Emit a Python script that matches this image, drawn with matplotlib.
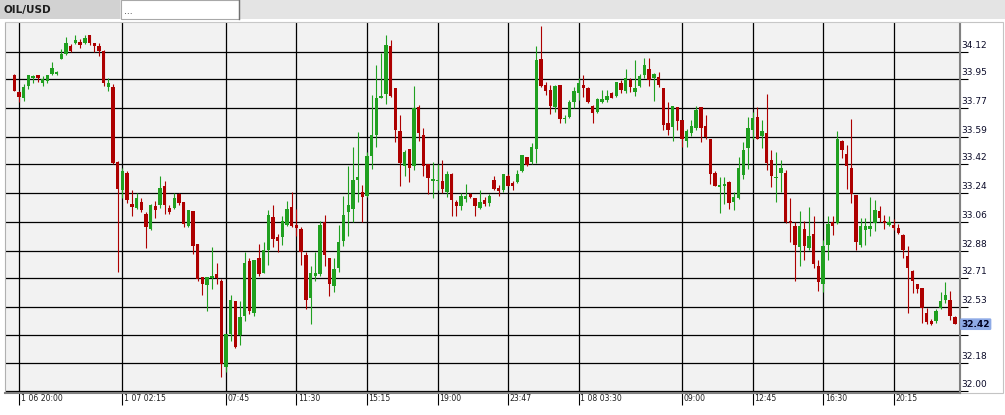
import matplotlib
matplotlib.use("Agg")
import matplotlib.pyplot as plt
import matplotlib.transforms as mtransforms
from matplotlib.patches import Rectangle
import numpy as np

# OHLC values, oldest bar first
opens = [33.98, 33.87, 33.833, 33.91, 33.96, 33.975, 33.93, 33.94, 33.985, 33.985,
         34.078, 34.11, 34.157, 34.176, 34.182, 34.176, 34.224, 34.178, 34.16, 34.13,
         33.899, 33.905, 33.433, 33.26, 33.365, 33.173, 33.146, 33.184, 33.107, 33.013,
         33.157, 33.163, 33.281, 33.146, 33.146, 33.236, 33.184, 33.034, 33.125, 32.92,
         32.713, 32.667, 32.706, 32.733, 32.69, 32.151, 32.359, 32.567, 32.355, 32.474,
         32.817, 32.49, 32.833, 32.74, 32.885, 33.087, 32.967, 32.967, 33.04, 33.15,
         33.04, 33.014, 32.852, 32.584, 32.719, 32.734, 33.056, 32.833, 32.657, 32.771,
         32.942, 33.118, 33.139, 33.32, 33.243, 33.222, 33.472, 33.601, 33.835, 33.858,
         34.16, 33.894, 33.626, 33.41, 33.513, 33.41, 33.775, 33.605, 33.423, 33.316,
         33.314, 33.312, 33.245, 33.36, 33.182, 33.161, 33.203, 33.235, 33.207, 33.147,
         33.193, 33.176, 33.323, 33.272, 33.256, 33.344, 33.304, 33.308, 33.377, 33.465,
         33.433, 33.517, 34.076, 33.915, 33.883, 33.779, 33.915, 33.699, 33.716, 33.811,
         33.867, 33.915, 33.898, 33.783, 33.748, 33.806, 33.821, 33.867, 33.846, 33.93,
         33.88, 33.946, 33.873, 33.909, 33.978, 34.016, 33.961, 33.963, 33.898, 33.679,
         33.649, 33.775, 33.695, 33.566, 33.616, 33.643, 33.775, 33.658, 33.58, 33.367,
         33.277, 33.285, 33.308, 33.183, 33.21, 33.35, 33.518, 33.633, 33.716, 33.597,
         33.616, 33.446, 33.331, 33.362, 33.367, 33.066, 33.035, 32.902, 33.014, 32.896,
         32.985, 32.782, 32.668, 32.917, 33.058, 33.051, 33.566, 33.483, 33.394, 33.228,
         32.912, 33.01, 33.014, 33.051, 33.13, 33.066, 33.037, 33.037, 33.02, 32.979,
         32.848, 32.751, 32.668, 32.647, 32.487, 32.44, 32.44, 32.518, 32.568, 32.57,
         32.464]
highs = [33.985, 33.88, 33.922, 33.978, 33.976, 33.98, 33.97, 33.98, 34.06, 34.005,
         34.14, 34.213, 34.17, 34.224, 34.2, 34.224, 34.228, 34.18, 34.178, 34.134,
         33.96, 33.92, 33.44, 33.396, 33.377, 33.256, 33.242, 33.21, 33.12, 33.173,
         33.188, 33.344, 33.315, 33.163, 33.242, 33.24, 33.184, 33.132, 33.125, 32.92,
         32.713, 32.717, 32.9, 32.8, 32.702, 32.359, 32.603, 32.567, 32.563, 32.869,
         32.831, 32.821, 32.921, 32.931, 33.135, 33.164, 32.983, 33.093, 33.187, 33.243,
         33.139, 33.025, 32.869, 32.786, 32.869, 33.066, 33.104, 32.833, 32.833, 33.039,
         33.222, 33.41, 33.524, 33.618, 33.291, 33.493, 33.851, 34.038, 34.113, 34.229,
         34.197, 33.894, 33.726, 33.507, 33.513, 33.909, 33.79, 33.643, 33.423, 33.433,
         33.423, 33.444, 33.377, 33.364, 33.197, 33.239, 33.293, 33.239, 33.207, 33.256,
         33.214, 33.235, 33.344, 33.287, 33.36, 33.36, 33.312, 33.381, 33.475, 33.465,
         33.549, 34.16, 34.281, 33.932, 33.915, 33.915, 33.915, 33.726, 33.821, 33.905,
         33.961, 33.978, 33.905, 33.79, 33.831, 33.884, 33.884, 33.873, 33.936, 33.946,
         34.016, 33.957, 34.068, 33.984, 34.083, 34.083, 33.988, 33.993, 33.898, 33.811,
         33.783, 33.775, 33.695, 33.639, 33.695, 33.783, 33.775, 33.727, 33.58, 33.377,
         33.34, 33.34, 33.312, 33.245, 33.465, 33.559, 33.716, 33.748, 33.779, 33.694,
         33.856, 33.508, 33.497, 33.446, 33.383, 33.207, 33.056, 33.13, 33.062, 33.151,
         33.093, 32.823, 32.948, 33.097, 33.097, 33.628, 33.57, 33.539, 33.705, 33.228,
         33.083, 33.083, 33.217, 33.197, 33.159, 33.103, 33.093, 33.076, 33.047, 32.985,
         32.91, 32.761, 32.672, 32.647, 32.523, 32.45, 32.512, 32.62, 32.682, 32.63,
         32.47]
lows = [33.875, 33.81, 33.812, 33.89, 33.93, 33.936, 33.91, 33.93, 33.98, 33.98,
        34.074, 34.105, 34.12, 34.17, 34.144, 34.17, 34.165, 34.12, 34.095, 33.91,
        33.88, 33.42, 32.747, 33.208, 33.18, 33.096, 33.142, 33.12, 32.897, 33.007,
        33.084, 33.146, 33.107, 33.107, 33.138, 33.163, 33.028, 33.028, 32.861, 32.69,
        32.603, 32.505, 32.64, 32.67, 32.089, 32.12, 32.318, 32.27, 32.29, 32.442,
        32.484, 32.474, 32.719, 32.74, 32.792, 32.9, 32.869, 32.915, 33.035, 33.025,
        32.973, 32.79, 32.515, 32.422, 32.692, 32.723, 32.786, 32.594, 32.619, 32.744,
        32.91, 32.973, 33.056, 33.181, 33.056, 33.212, 33.389, 33.524, 33.831, 33.796,
        33.84, 33.559, 33.283, 33.346, 33.308, 33.381, 33.565, 33.344, 33.235, 33.21,
        33.256, 33.241, 33.214, 33.099, 33.099, 33.134, 33.182, 33.21, 33.099, 33.14,
        33.161, 33.161, 33.256, 33.224, 33.245, 33.283, 33.256, 33.304, 33.371, 33.408,
        33.423, 33.427, 33.905, 33.852, 33.731, 33.748, 33.674, 33.674, 33.706, 33.769,
        33.821, 33.842, 33.8, 33.679, 33.737, 33.8, 33.811, 33.831, 33.842, 33.863,
        33.867, 33.873, 33.846, 33.9, 33.957, 33.909, 33.817, 33.905, 33.633, 33.601,
        33.566, 33.633, 33.524, 33.528, 33.595, 33.633, 33.559, 33.574, 33.298, 33.281,
        33.114, 33.172, 33.141, 33.135, 33.204, 33.329, 33.392, 33.58, 33.58, 33.518,
        33.383, 33.28, 33.186, 33.248, 33.052, 32.931, 32.688, 32.786, 32.819, 32.885,
        32.771, 32.63, 32.62, 32.819, 32.979, 33.047, 33.456, 33.263, 33.176, 32.885,
        32.902, 32.917, 32.968, 33.0, 33.058, 33.014, 33.031, 33.01, 32.985, 32.834,
        32.491, 32.616, 32.612, 32.429, 32.419, 32.413, 32.429, 32.512, 32.554, 32.446,
        32.423]
closes = [33.88, 33.84, 33.905, 33.974, 33.97, 33.957, 33.95, 33.975, 34.02, 33.995,
          34.11, 34.18, 34.126, 34.193, 34.167, 34.21, 34.176, 34.157, 34.124, 33.928,
          33.928, 33.427, 33.267, 33.38, 33.194, 33.152, 33.209, 33.132, 33.028, 33.163,
          33.132, 33.273, 33.163, 33.121, 33.21, 33.18, 33.044, 33.132, 32.909, 32.70,
          32.671, 32.717, 32.719, 32.706, 32.172, 32.359, 32.571, 32.276, 32.463, 32.802,
          32.505, 32.821, 32.734, 32.885, 33.102, 32.952, 32.942, 33.062, 33.139, 33.035,
          33.022, 32.869, 32.573, 32.74, 32.74, 33.039, 32.852, 32.671, 32.765, 32.931,
          33.102, 33.164, 33.32, 33.341, 33.216, 33.468, 33.601, 33.836, 33.846, 34.166,
          33.846, 33.632, 33.427, 33.496, 33.396, 33.768, 33.616, 33.408, 33.333, 33.329,
          33.322, 33.266, 33.356, 33.197, 33.161, 33.224, 33.224, 33.214, 33.157, 33.182,
          33.172, 33.224, 33.266, 33.251, 33.356, 33.283, 33.283, 33.356, 33.475, 33.413,
          33.528, 34.068, 33.911, 33.879, 33.785, 33.909, 33.699, 33.71, 33.81, 33.878,
          33.93, 33.898, 33.806, 33.737, 33.825, 33.827, 33.846, 33.836, 33.936, 33.884,
          33.961, 33.9, 33.898, 33.968, 34.037, 33.943, 33.982, 33.915, 33.664, 33.633,
          33.783, 33.689, 33.576, 33.628, 33.658, 33.758, 33.643, 33.587, 33.356, 33.281,
          33.287, 33.293, 33.176, 33.214, 33.396, 33.511, 33.643, 33.706, 33.58, 33.626,
          33.429, 33.348, 33.341, 33.394, 33.056, 33.051, 32.917, 33.031, 32.91, 32.968,
          32.798, 32.682, 32.911, 33.047, 33.035, 33.574, 33.508, 33.408, 33.234, 32.931,
          33.031, 33.031, 33.035, 33.134, 33.083, 33.051, 33.058, 33.02, 32.989, 32.885,
          32.771, 32.688, 32.637, 32.523, 32.433, 32.419, 32.502, 32.564, 32.6, 32.471,
          32.42]

# price grid levels and their labels (32.35 is covered by the last price tag)
price_levels = [32.00, 32.18, 32.35, 32.53, 32.71, 32.88, 33.06, 33.24, 33.42, 33.59, 33.77, 33.95, 34.12]
price_labels = ['32.00', '32.18', '', '32.53', '32.71', '32.88', '33.06', '33.24', '33.42', '33.59', '33.77', '33.95', '34.12']

# time labels sit on bar numbers
time_bars = [1, 23, 45, 60, 75, 90, 105, 120, 142, 157, 172, 187]
time_labels = ['1 06 20:00', '1 07 02:15', '07:45', '11:30', '15:15', '19:00',
               '23:47', '1 08 03:30', '09:00', '12:45', '16:30', '20:15']

W, H = 1005, 415
fig = plt.figure(figsize=(W / 100, H / 100), dpi=100)
fig.patch.set_facecolor('white')

# window decoration: tab strip and price panel frame, pixel coordinates
bg = fig.add_axes([0, 0, 1, 1], zorder=0)
bg.set_xlim(0, W)
bg.set_ylim(H, 0)
bg.axis('off')
bg.add_patch(Rectangle((0, 0), W, 19, fc='#e4e4e4', ec='none'))
bg.add_patch(Rectangle((0, 0), 120, 19, fc='#d2d2d2', ec='none'))
bg.add_patch(Rectangle((121, 0.5), 118, 18.5, fc='white', ec='#a8a8a8', lw=0.8))
bg.plot([239, 239], [0, 19], color='#707070', lw=1.0)
bg.text(3, 9.5, 'OIL/USD', fontsize=7.5, fontweight='bold', va='center', color='#1e1e1e')
bg.text(124, 11, '...', fontsize=6.5, va='center', color='#1e1e1e')
bg.add_patch(Rectangle((960, 22.5), 43, 370.5, fc='white', ec='#c4c4c4', lw=0.8))

ax = fig.add_axes([5 / W, 22 / H, 955 / W, 370.5 / H], zorder=1)
ax.set_facecolor('#f2f2f2')

o = np.array(opens)
hi = np.array(highs)
lo = np.array(lows)
c = np.array(closes)
idx = np.arange(len(o))
cols = np.where(c >= o, '#20a020', '#ad0000')

# candles: wick then body
ax.vlines(idx, lo, hi, colors=cols, lw=0.8, zorder=3)
body_low = np.minimum(o, c)
body_h = np.maximum(np.abs(c - o), 0.007)
ax.bar(idx, body_h, bottom=body_low, width=0.72, color=cols, lw=0, zorder=4)

ax.set_xlim(-1.98, 201.1)
ax.set_ylim(31.99, 34.305)

ax.set_yticks(price_levels)
ax.set_xticks(time_bars)
ax.grid(True, color='black', lw=0.9, zorder=1)
ax.set_axisbelow(True)

ax.yaxis.tick_right()
ax.tick_params(axis='y', direction='out', length=5.8, width=0.8, color='black',
               labelright=False, labelleft=False)
ax.tick_params(axis='x', direction='out', length=8.6, width=0.8, color='black',
               labelbottom=False)

for side in ['right', 'bottom']:
    ax.spines[side].set_color('#808080')
    ax.spines[side].set_linewidth(1.5)
ax.spines['left'].set_color('#b0b0b0')
ax.spines['left'].set_linewidth(0.8)
ax.spines['top'].set_color('#c8c8c8')
ax.spines['top'].set_linewidth(0.8)

# price labels on the right
ytrans = mtransforms.blended_transform_factory(ax.transAxes, ax.transData)
off = mtransforms.ScaledTranslation(1.5 / 100, 4 / 100, fig.dpi_scale_trans)
for v, s in zip(price_levels, price_labels):
    if s:
        ax.text(1.0, v, s, transform=ytrans + off, fontsize=6.5, ha='left',
                va='baseline', color='#0a0a28', clip_on=False)

# last price tag
tag_off = mtransforms.ScaledTranslation(1.5 / 100, 0, fig.dpi_scale_trans)
ax.text(1.0, closes[-1], '%.2f' % closes[-1], transform=ytrans + tag_off,
        fontsize=6.5, fontweight='bold', ha='left', va='center', color='#000020',
        bbox=dict(boxstyle='round,pad=0.15', fc='#8eaae6', ec='none'), clip_on=False)

# time labels under the chart
xtrans = mtransforms.blended_transform_factory(ax.transData, ax.transAxes)
toff = mtransforms.ScaledTranslation(1.5 / 100, -5.5 / 100, fig.dpi_scale_trans)
for b, s in zip(time_bars, time_labels):
    ax.text(b, 0, s, transform=xtrans + toff, fontsize=5.6, ha='left', va='center',
            color='#202020', clip_on=False)

fig.savefig('out.png', dpi=100)
